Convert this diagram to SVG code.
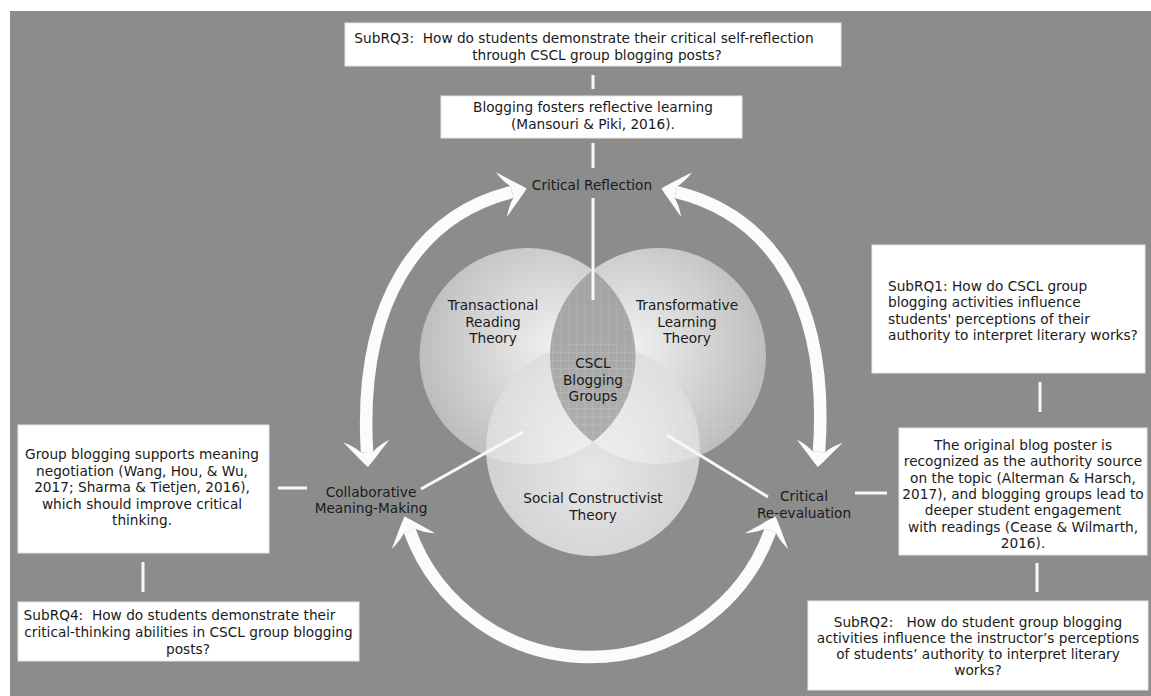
<svg xmlns="http://www.w3.org/2000/svg" xmlns:xlink="http://www.w3.org/1999/xlink" width="1151" height="696" viewBox="0 0 1151 696">
<style>
text{font-family:"DejaVu Sans","Liberation Sans",sans-serif;font-size:13.7px;fill:#1a1a1a}
.m{text-anchor:middle}
.box{fill:#ffffff;stroke:#e6e6e6;stroke-width:1}
.conn{stroke:#f8f8f8;stroke-width:3;fill:none}
.arc{stroke:#fbfbfb;stroke-width:12.5;fill:none}
.head{fill:#fbfbfb}
</style>
<defs>
<radialGradient id="gL" cx="0.62" cy="0.45" r="0.62">
<stop offset="0" stop-color="#f0f0f0"/><stop offset="1" stop-color="#bdbdbd"/>
</radialGradient>
<radialGradient id="gR" cx="0.38" cy="0.45" r="0.62">
<stop offset="0" stop-color="#f0f0f0"/><stop offset="1" stop-color="#bdbdbd"/>
</radialGradient>
<radialGradient id="gB" cx="0.5" cy="0.62" r="0.6">
<stop offset="0" stop-color="#fdfdfd"/><stop offset="1" stop-color="#dcdcdc"/>
</radialGradient>
<linearGradient id="gLens" x1="0" y1="0" x2="0" y2="1">
<stop offset="0" stop-color="#a2a2a2"/><stop offset="1" stop-color="#b0b0b0"/>
</linearGradient>
<pattern id="grid" width="8" height="8" patternUnits="userSpaceOnUse">
<path d="M8,0 L0,0 0,8" fill="none" stroke="#ffffff" stroke-opacity="0.08" stroke-width="0.8"/>
</pattern>
<clipPath id="clipR"><circle cx="658" cy="356" r="108"/></clipPath>
<path id="head" d="M0,0 C-6,-6 -16,-14 -26,-23 C-22,-14 -18,-9 -15,-6 L-15,6 C-18,9 -22,14 -26,23 C-16,14 -6,6 0,0 Z"/>
</defs>

<rect x="0" y="0" width="1151" height="696" fill="#ffffff"/>
<rect x="10" y="11" width="1141" height="685" fill="#8c8c8c"/>

<g id="venn">
<circle cx="527.5" cy="356" r="108" fill="url(#gL)"/>
<circle cx="658" cy="356" r="108" fill="url(#gR)"/>
<circle cx="593" cy="449" r="107" fill="url(#gB)" fill-opacity="0.8"/>
<circle cx="527.5" cy="356" r="108" fill="url(#gLens)" clip-path="url(#clipR)"/>
<circle cx="527.5" cy="356" r="108" fill="url(#grid)"/>
<circle cx="658" cy="356" r="108" fill="url(#grid)"/>
<circle cx="593" cy="449" r="107" fill="url(#grid)"/>
</g>

<g id="arrows">
<path class="arc" d="M512,192 C420,215 358,300 367,452"/>
<use xlink:href="#head" class="head" transform="translate(526.6,188.4) rotate(-14)"/>
<use xlink:href="#head" class="head" transform="translate(367.9,467) rotate(86.6)"/>
<path class="arc" d="M676,192 C770,215 830,300 819,452"/>
<use xlink:href="#head" class="head" transform="translate(661.4,188.4) rotate(-166.25)"/>
<use xlink:href="#head" class="head" transform="translate(817.9,467) rotate(94.1)"/>
<path class="arc" d="M409.6,530.7 A192,192 0 0 0 770.4,530.7"/>
<use xlink:href="#head" class="head" transform="translate(404.5,516.6) rotate(-110)"/>
<use xlink:href="#head" class="head" transform="translate(775.5,516.6) rotate(-70)"/>
</g>

<g id="connectors">
<line class="conn" x1="593" y1="75" x2="593" y2="89"/>
<line class="conn" x1="593" y1="143" x2="593" y2="168"/>
<line class="conn" x1="593" y1="198" x2="593" y2="300"/>
<line class="conn" x1="278" y1="488" x2="307" y2="488"/>
<line class="conn" x1="143" y1="562" x2="143" y2="592"/>
<line class="conn" x1="421" y1="489" x2="523" y2="432"/>
<line class="conn" x1="667" y1="435" x2="768" y2="497"/>
<line class="conn" x1="855" y1="493" x2="887" y2="493"/>
<line class="conn" x1="1040" y1="382" x2="1040" y2="412"/>
<line class="conn" x1="1037" y1="563" x2="1037" y2="592"/>
</g>

<g id="subrq3">
<rect class="box" x="345" y="23" width="496" height="43"/>
<text class="m" x="584" y="43" xml:space="preserve">SubRQ3:  How do students demonstrate their critical self-reflection</text>
<text class="m" x="597" y="60">through CSCL group blogging posts?</text>
</g>

<g id="reflective-learning">
<rect class="box" x="441" y="96" width="301" height="42"/>
<text class="m" x="593" y="112">Blogging fosters reflective learning</text>
<text class="m" x="593" y="129">(Mansouri &amp; Piki, 2016).</text>
</g>

<g id="critical-reflection">
<text class="m" x="592" y="190">Critical Reflection</text>
</g>

<g id="transactional">
<text class="m" x="493" y="310">Transactional</text>
<text class="m" x="493" y="326.7">Reading</text>
<text class="m" x="493" y="343.4">Theory</text>
</g>

<g id="transformative">
<text class="m" x="687" y="310">Transformative</text>
<text class="m" x="687" y="326.7">Learning</text>
<text class="m" x="687" y="343.4">Theory</text>
</g>

<g id="cscl">
<text class="m" x="593" y="368">CSCL</text>
<text class="m" x="593" y="384.7">Blogging</text>
<text class="m" x="593" y="401.4">Groups</text>
</g>

<g id="social">
<text class="m" x="593" y="503">Social Constructivist</text>
<text class="m" x="593" y="520">Theory</text>
</g>

<g id="collaborative">
<text class="m" x="371" y="497">Collaborative</text>
<text class="m" x="371" y="513">Meaning-Making</text>
</g>

<g id="re-evaluation">
<text class="m" x="804" y="501">Critical</text>
<text class="m" x="804" y="518">Re-evaluation</text>
</g>

<g id="meaning-negotiation">
<rect class="box" x="18" y="425" width="251" height="128"/>
<text class="m" x="142" y="459">Group blogging supports meaning</text>
<text class="m" x="142" y="475.5">negotiation (Wang, Hou, &amp; Wu,</text>
<text class="m" x="142" y="492">2017; Sharma &amp; Tietjen, 2016),</text>
<text class="m" x="142" y="508.5">which should improve critical</text>
<text class="m" x="142" y="525">thinking.</text>
</g>

<g id="subrq4">
<rect class="box" x="18" y="602" width="341" height="59"/>
<text class="m" x="179.5" y="620" xml:space="preserve">SubRQ4:  How do students demonstrate their</text>
<text class="m" x="188.5" y="637">critical-thinking abilities in CSCL group blogging</text>
<text class="m" x="188" y="654">posts?</text>
</g>

<g id="subrq1">
<rect class="box" x="872" y="245" width="273" height="128"/>
<text x="888" y="291">SubRQ1: How do CSCL group</text>
<text x="888" y="307">blogging activities influence</text>
<text x="888" y="324">students' perceptions of their</text>
<text x="888" y="340">authority to interpret literary works?</text>
</g>

<g id="authority-source">
<rect class="box" x="899" y="428" width="248" height="127"/>
<text class="m" x="1023" y="450">The original blog poster is</text>
<text class="m" x="1023" y="466.3">recognized as the authority source</text>
<text class="m" x="1023" y="482.6">on the topic (Alterman &amp; Harsch,</text>
<text class="m" x="1023" y="498.9">2017), and blogging groups lead to</text>
<text class="m" x="1023" y="515.2">deeper student engagement</text>
<text class="m" x="1023" y="531.5">with readings (Cease &amp; Wilmarth,</text>
<text class="m" x="1023" y="547.8">2016).</text>
</g>

<g id="subrq2">
<rect class="box" x="808" y="601" width="340" height="89"/>
<text class="m" x="978" y="627" xml:space="preserve">SubRQ2:   How do student group blogging</text>
<text class="m" x="978" y="643">activities influence the instructor’s perceptions</text>
<text class="m" x="978" y="659">of students’ authority to interpret literary</text>
<text class="m" x="978" y="675">works?</text>
</g>
</svg>
